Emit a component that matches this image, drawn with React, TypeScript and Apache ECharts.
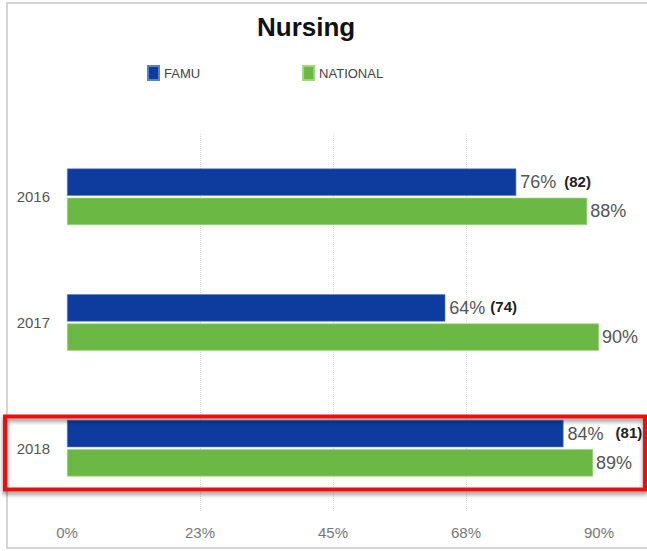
import React, { useEffect, useRef } from "react";
import * as echarts from "echarts";

const years = ["2016", "2017", "2018"];
const famu = [76, 64, 84];
const national = [88, 90, 89];
const famuCounts = [82, 74, 81];
const countGaps = [8, 5, 12];
const xTicks = { min: 0, max: 90, interval: 22.5 };

const FONT = "'Liberation Sans', Arial, Helvetica, sans-serif";

export default function App() {
  const ref = useRef<HTMLDivElement>(null);

  useEffect(() => {
    if (!ref.current) return;
    const chart = echarts.init(ref.current, null, { renderer: "svg" });

    const famuData = famu.map((v, i) => ({
      value: v,
      label: {
        formatter: `{v|${v}%}{n|(${famuCounts[i]})}`,
        rich: {
          v: { fontSize: 18, color: "#555", fontFamily: FONT },
          n: {
            fontSize: 15,
            fontWeight: "bold",
            color: "#222",
            fontFamily: FONT,
            padding: [0, 0, 2, countGaps[i]],
          },
        },
      },
    }));

    chart.setOption({
      animation: false,
      backgroundColor: "#ffffff",
      textStyle: { fontFamily: FONT },
      title: {
        text: "Nursing",
        left: 252,
        top: 9,
        textStyle: { fontSize: 26, fontWeight: "bold", color: "#111", fontFamily: FONT },
      },
      legend: {
        left: 142,
        top: 60,
        itemWidth: 11,
        itemHeight: 14,
        itemGap: 102,
        icon: "rect",
        textStyle: { fontSize: 13, color: "#444", fontFamily: FONT },
        data: ["FAMU", "NATIONAL"],
      },
      grid: { left: 67, right: 48, top: 134, height: 377 },
      xAxis: {
        type: "value",
        min: xTicks.min,
        max: xTicks.max,
        interval: xTicks.interval,
        axisLine: { show: false },
        axisTick: { show: false },
        splitLine: {
          show: true,
          showMinLine: false,
          showMaxLine: false,
          lineStyle: { color: "#dcdcdc", type: "dotted", width: 1 },
        },
        axisLabel: {
          formatter: (v: number) => `${Math.round(v)}%`,
          fontSize: 15,
          color: "#777",
          margin: 14,
          fontFamily: FONT,
        },
      },
      yAxis: {
        type: "category",
        data: years,
        inverse: true,
        axisLine: { show: false },
        axisTick: { show: false },
        splitLine: { show: false },
        axisLabel: { fontSize: 15, color: "#555", margin: 17, fontFamily: FONT },
      },
      series: [
        {
          name: "FAMU",
          type: "bar",
          data: famuData,
          barCategoryGap: "55%",
          barGap: "7%",
          itemStyle: { color: "#0d3b9e", borderColor: "#5b7fc8", borderWidth: 0.6 },
          label: { show: true, position: "right", distance: 4 },
        },
        {
          name: "NATIONAL",
          type: "bar",
          data: national,
          barCategoryGap: "55%",
          barGap: "7%",
          itemStyle: { color: "#6cb844", borderColor: "#9fd67f", borderWidth: 0.6 },
          label: {
            show: true,
            position: "right",
            distance: 3,
            formatter: "{c}%",
            fontSize: 18,
            color: "#555",
            fontFamily: FONT,
          },
        },
      ],
      graphic: [
        {
          type: "rect",
          shape: { x: 7, y: 3, width: 700, height: 545 },
          style: { fill: "none", stroke: "#c8c8c8", lineWidth: 1.5 },
          silent: true,
          z: 100,
        },
        {
          type: "rect",
          shape: { x: 5, y: 416.5, width: 640, height: 73 },
          style: {
            fill: "none",
            stroke: "#f01010",
            lineWidth: 4,
            shadowBlur: 4,
            shadowOffsetY: 3,
            shadowColor: "rgba(0,0,0,0.45)",
          },
          silent: true,
          z: 101,
        },
      ],
    });

    return () => chart.dispose();
  }, []);

  return (
    <div
      ref={ref}
      style={{ position: "absolute", left: 0, top: 0, width: 647, height: 551, background: "#fff" }}
    />
  );
}
